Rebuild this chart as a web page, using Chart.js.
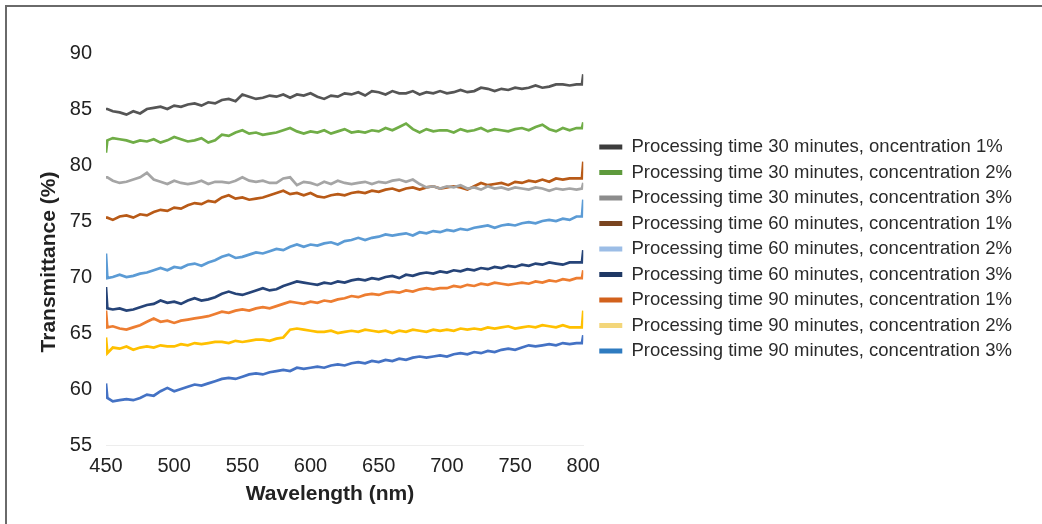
<!DOCTYPE html>
<html>
<head>
<meta charset="utf-8">
<script src="https://cdn.jsdelivr.net/npm/chart.js@4"></script>
<style>
  html, body { margin: 0; padding: 0; background: #fff; }
  #wrap { position: relative; width: 1042px; height: 524px; }
  #frame { position: absolute; left: 5px; top: 5px; right: 0; bottom: 0;
           border-left: 2px solid #6a6a6a; border-top: 2px solid #6a6a6a; pointer-events: none; }
  canvas { position: absolute; left: 0; top: 0; }
</style>
</head>
<body>
<div id="wrap">
  <canvas id="spectra" width="1042" height="524"></canvas>
  <div id="frame"></div>
</div>
<script>
// Wavelength (nm) - shared x values
const wavelengths = [
  450, 451, 455, 460, 465, 470, 475, 480, 485, 490,
  495, 500, 505, 510, 515, 520, 525, 530, 535, 540,
  545, 550, 555, 560, 565, 570, 575, 580, 585, 590,
  595, 600, 605, 610, 615, 620, 625, 630, 635, 640,
  645, 650, 655, 660, 665, 670, 675, 680, 685, 690,
  695, 700, 705, 710, 715, 720, 725, 730, 735, 740,
  745, 750, 755, 760, 765, 770, 775, 780, 785, 790,
  795, 799, 800
];

const seriesNames = [
  'Processing time 30 minutes, oncentration 1%',
  'Processing time 30 minutes, concentration 2%',
  'Processing time 30 minutes, concentration 3%',
  'Processing time 60 minutes, concentration 1%',
  'Processing time 60 minutes, concentration 2%',
  'Processing time 60 minutes, concentration 3%',
  'Processing time 90 minutes, concentration 1%',
  'Processing time 90 minutes, concentration 2%',
  'Processing time 90 minutes, concentration 3%'
];

const xTitle = 'Wavelength (nm)';
const yTitle = 'Transmittance (%)';

// Transmittance (%) per series
const t30c1 = [
  85.0, 85.0, 84.8, 84.7, 84.5, 84.8, 84.6, 85.0, 85.1, 85.2,
  85.0, 85.3, 85.2, 85.4, 85.5, 85.3, 85.6, 85.5, 85.8, 85.9,
  85.7, 86.3, 86.1, 85.9, 86.0, 86.2, 86.1, 86.3, 86.0, 86.3,
  86.2, 86.4, 86.1, 85.9, 86.2, 86.1, 86.4, 86.3, 86.5, 86.2,
  86.6, 86.5, 86.3, 86.6, 86.4, 86.4, 86.6, 86.3, 86.5, 86.4,
  86.6, 86.4, 86.5, 86.7, 86.5, 86.6, 86.9, 86.8, 86.6, 86.8,
  86.7, 86.9, 86.8, 86.9, 87.1, 86.9, 87.0, 87.2, 87.2, 87.1,
  87.2, 87.2, 88.1
];
const t30c2 = [
  81.1, 82.2, 82.4, 82.3, 82.2, 82.0, 82.2, 82.1, 82.3, 82.0,
  82.2, 82.5, 82.3, 82.1, 82.2, 82.4, 82.0, 82.2, 82.7, 82.6,
  82.9, 83.1, 82.8, 82.9, 82.7, 82.8, 82.9, 83.1, 83.3, 83.0,
  82.8, 83.0, 82.9, 83.1, 82.8, 83.0, 83.2, 82.9, 83.0, 82.9,
  83.1, 83.0, 83.3, 83.1, 83.4, 83.7, 83.2, 82.9, 83.2, 83.0,
  83.1, 83.1, 82.9, 83.2, 83.0, 83.1, 83.3, 83.0, 83.2, 83.1,
  83.0, 83.2, 83.3, 83.1, 83.4, 83.6, 83.2, 83.0, 83.3, 83.1,
  83.3, 83.3, 83.8
];
const t30c3 = [
  78.9, 78.9, 78.6, 78.4, 78.5, 78.7, 78.9, 79.3, 78.7, 78.5,
  78.3, 78.6, 78.4, 78.3, 78.4, 78.6, 78.3, 78.5, 78.5, 78.4,
  78.6, 78.9, 78.6, 78.5, 78.6, 78.4, 78.4, 78.8, 78.9, 78.2,
  78.5, 78.4, 78.2, 78.5, 78.3, 78.6, 78.4, 78.3, 78.4, 78.5,
  78.3, 78.5, 78.4, 78.6, 78.7, 78.5, 78.7, 78.3, 78.0, 78.1,
  77.9, 78.1, 78.0, 78.2, 77.9, 78.0, 77.8, 78.1, 77.9, 78.0,
  77.8, 78.0, 77.9, 77.8, 78.0, 77.9, 77.7, 77.9, 77.8, 77.9,
  77.8, 77.9, 78.4
];
const t60c1 = [
  75.3, 75.3, 75.1, 75.4, 75.5, 75.3, 75.6, 75.5, 75.8, 76.0,
  75.9, 76.2, 76.1, 76.4, 76.6, 76.5, 76.8, 76.7, 77.1, 77.3,
  77.0, 77.1, 76.9, 77.0, 77.1, 77.3, 77.5, 77.7, 77.4, 77.5,
  77.3, 77.5, 77.2, 77.1, 77.3, 77.4, 77.3, 77.5, 77.6, 77.5,
  77.7, 77.6, 77.8, 77.9, 77.7, 77.9, 78.0, 77.8, 78.0, 78.1,
  77.9, 78.0, 78.1, 78.0, 77.8, 78.1, 78.4, 78.2, 78.3, 78.4,
  78.2, 78.5, 78.4, 78.6, 78.5, 78.7, 78.5, 78.8, 78.7, 78.8,
  78.8, 78.8, 80.3
];
const t60c2 = [
  72.1, 69.9, 70.0, 70.2, 70.0, 70.1, 70.3, 70.4, 70.6, 70.8,
  70.6, 70.9, 70.8, 71.1, 71.2, 71.0, 71.3, 71.5, 71.8, 72.0,
  71.7, 71.8, 72.0, 72.2, 72.1, 72.3, 72.5, 72.4, 72.7, 72.9,
  72.7, 72.9, 72.8, 73.0, 73.1, 72.9, 73.2, 73.3, 73.5, 73.3,
  73.5, 73.6, 73.8, 73.7, 73.8, 73.9, 73.7, 74.0, 73.9, 74.1,
  74.0, 74.2, 74.1, 74.3, 74.2, 74.4, 74.5, 74.6, 74.4, 74.6,
  74.7, 74.6, 74.8, 74.9, 74.8, 75.0, 75.1, 75.0, 75.2, 75.1,
  75.4, 75.4, 76.9
];
const t60c3 = [
  69.1, 67.2, 67.1, 67.2, 67.0, 67.1, 67.3, 67.5, 67.6, 67.9,
  67.7, 67.8, 67.6, 67.9, 68.1, 67.9, 68.0, 68.2, 68.5, 68.7,
  68.5, 68.4, 68.6, 68.8, 69.0, 68.8, 68.9, 69.2, 69.4, 69.6,
  69.5, 69.4, 69.3, 69.5, 69.4, 69.6, 69.5, 69.7, 69.8, 69.7,
  69.9, 69.8, 70.0, 70.1, 69.9, 70.2, 70.1, 70.3, 70.4, 70.3,
  70.5, 70.4, 70.6, 70.5, 70.7, 70.6, 70.8, 70.7, 70.9, 70.8,
  71.0, 70.9, 71.1, 71.0, 71.2, 71.1, 71.3, 71.2, 71.1, 71.3,
  71.3, 71.3, 72.4
];
const t90c1 = [
  67.0, 65.5, 65.6, 65.4, 65.3, 65.5, 65.7, 66.0, 66.3, 66.0,
  66.1, 65.9, 66.1, 66.2, 66.3, 66.4, 66.5, 66.7, 66.9, 66.8,
  67.0, 67.1, 67.0, 67.2, 67.3, 67.2, 67.4, 67.6, 67.8, 67.7,
  67.6, 67.8, 67.7, 67.9, 67.8, 68.0, 68.1, 68.3, 68.2, 68.4,
  68.5, 68.4, 68.6, 68.7, 68.6, 68.8, 68.7, 68.9, 69.0, 68.9,
  69.0, 69.0, 69.2, 69.1, 69.3, 69.2, 69.4, 69.3, 69.5, 69.4,
  69.3, 69.4, 69.5, 69.4, 69.6, 69.5, 69.7, 69.6, 69.8, 69.7,
  69.9, 69.9, 70.6
];
const t90c2 = [
  64.6, 63.2, 63.7, 63.6, 63.8, 63.5, 63.7, 63.8, 63.7, 63.9,
  63.8, 63.8, 64.0, 63.9, 64.1, 64.0, 64.1, 64.2, 64.2, 64.1,
  64.3, 64.2, 64.3, 64.4, 64.4, 64.3, 64.5, 64.6, 65.3, 65.4,
  65.3, 65.2, 65.1, 65.1, 65.2, 65.0, 65.1, 65.2, 65.1, 65.3,
  65.2, 65.1, 65.2, 65.0, 65.2, 65.1, 65.3, 65.2, 65.1, 65.3,
  65.2, 65.3, 65.2, 65.4, 65.3, 65.4, 65.3, 65.5, 65.4, 65.5,
  65.6, 65.4, 65.5, 65.6, 65.5, 65.7, 65.6, 65.5, 65.7, 65.5,
  65.5, 65.5, 67.0
];
const t90c3 = [
  60.5, 59.2, 58.9, 59.0, 59.1, 59.0, 59.2, 59.5, 59.4, 59.8,
  60.1, 59.8, 60.0, 60.2, 60.4, 60.3, 60.5, 60.7, 60.9, 61.0,
  60.9, 61.1, 61.3, 61.4, 61.3, 61.5, 61.6, 61.7, 61.6, 61.9,
  61.8, 61.9, 62.0, 61.9, 62.1, 62.2, 62.1, 62.3, 62.4, 62.3,
  62.5, 62.4, 62.6, 62.5, 62.7, 62.6, 62.8, 62.9, 62.8, 62.9,
  63.0, 62.9, 63.1, 63.2, 63.1, 63.3, 63.2, 63.4, 63.3, 63.5,
  63.6, 63.5, 63.7, 63.9, 63.8, 63.9, 64.0, 63.9, 64.1, 64.0,
  64.1, 64.1, 64.8
];

const allSeries = [t30c1, t30c2, t30c3, t60c1, t60c2, t60c3, t90c1, t90c2, t90c3];

const lineColors = ['#555555', '#70ad47', '#a5a5a5', '#b85a17', '#5b9bd5', '#264478', '#ed7d31', '#ffc000', '#4472c4'];
const legendColors = ['#3c3c3c', '#5e9a3c', '#8c8c8c', '#7a4520', '#9cbde6', '#1f3864', '#d2611c', '#f3d67a', '#2e7bc0'];

const datasets = allSeries.map((vals, i) => ({
  label: seriesNames[i],
  data: vals.map((v, j) => ({ x: wavelengths[j], y: v })),
  borderColor: lineColors[i],
  backgroundColor: legendColors[i],
  borderWidth: 2.7,
  pointRadius: 0,
  tension: 0,
  fill: false
}));

const FONT = "'Liberation Sans', Arial, sans-serif";

// axis titles, placed like the original figure (centred on the canvas, not the plot)
const axisTitles = {
  id: 'axisTitles',
  afterDraw(chart) {
    const ctx = chart.ctx;
    ctx.save();
    ctx.fillStyle = '#222';
    ctx.font = 'bold 21px ' + FONT;
    ctx.textAlign = 'center';
    ctx.textBaseline = 'alphabetic';
    ctx.fillText(xTitle, 330, 500);
    ctx.translate(55, 262);
    ctx.rotate(-Math.PI / 2);
    ctx.fillText(yTitle, 0, 0);
    ctx.restore();
  }
};

new Chart(document.getElementById('spectra'), {
  type: 'line',
  data: { datasets },
  plugins: [axisTitles],
  options: {
    responsive: false,
    animation: false,
    layout: { padding: { left: 0, right: 20, top: 53, bottom: 0 } },
    plugins: {
      tooltip: { enabled: false },
      legend: {
        position: 'right',
        fullSize: false,
        maxWidth: 470,
        labels: {
          color: '#2b2b2b',
          font: { family: FONT, size: 18.5 },
          boxWidth: 23,
          boxHeight: 5,
          padding: 7,
          generateLabels(chart) {
            return Chart.defaults.plugins.legend.labels.generateLabels(chart).map(item => {
              item.lineWidth = 0;
              item.fillStyle = legendColors[item.datasetIndex];
              return item;
            });
          }
        }
      }
    },
    scales: {
      x: {
        type: 'linear',
        min: 450,
        max: 800,
        afterFit(axis) { axis.height = 79; },
        ticks: { stepSize: 50, color: '#222', font: { family: FONT, size: 20 }, padding: 9 },
        grid: { display: false, drawTicks: false },
        border: { display: true, color: '#ededed' }
      },
      y: {
        min: 55,
        max: 90,
        afterFit(axis) { axis.width = 106; },
        ticks: { stepSize: 5, color: '#222', font: { family: FONT, size: 20 }, padding: 14 },
        grid: { display: false, drawTicks: false },
        border: { display: false }
      },
      // empty spacer between plot and legend
      gap: {
        position: 'right',
        display: true,
        afterFit(axis) { axis.width = 9; },
        ticks: { display: false },
        grid: { display: false, drawTicks: false },
        border: { display: false }
      }
    }
  }
});
</script>
</body>
</html>
